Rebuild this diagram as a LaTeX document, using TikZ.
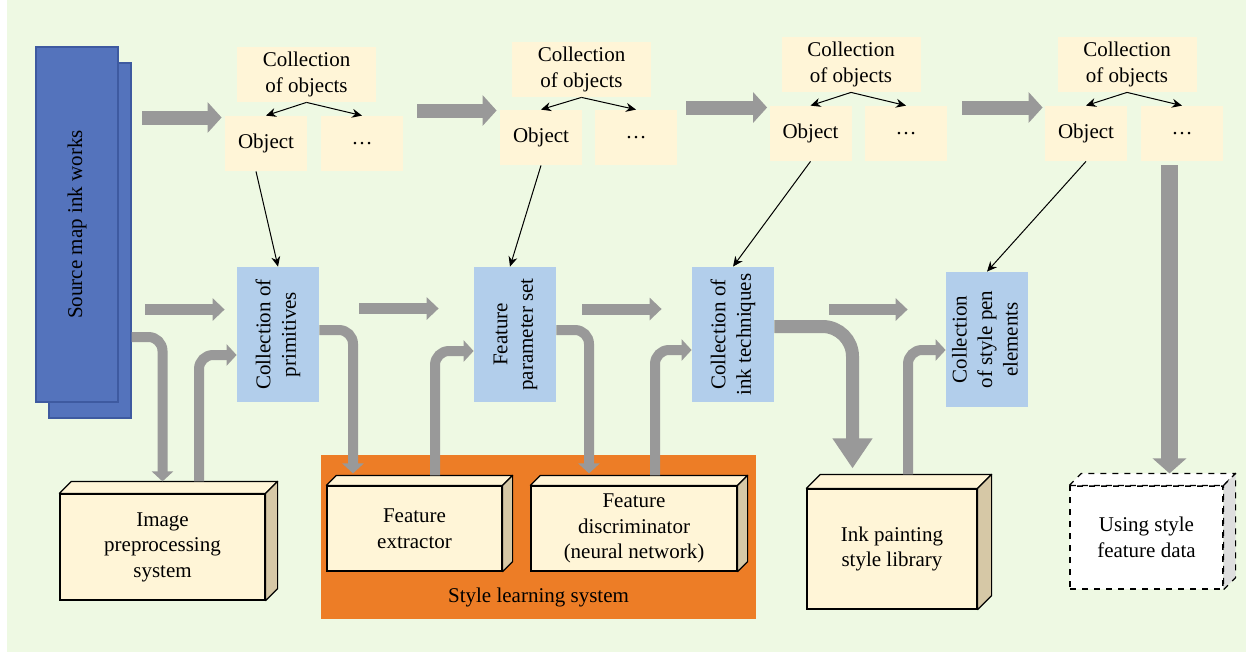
\documentclass[tikz,border=0pt]{standalone}
\usepackage{fontspec}
\setmainfont{Liberation Serif}
\usepackage{graphicx}
\usetikzlibrary{positioning,calc,arrows.meta}
\definecolor{PaleGreen}{RGB}{238,249,227}
\definecolor{LightCream}{RGB}{255,245,215}
\definecolor{SkyBlue}{RGB}{178,206,235}
\definecolor{InkBlue}{RGB}{84,115,188}
\definecolor{InkBlueDark}{RGB}{62,90,160}
\definecolor{ArrowGray}{RGB}{153,153,153}
\definecolor{SideTan}{RGB}{214,200,166}
\definecolor{SideGray}{RGB}{222,222,222}
\definecolor{LearnOrange}{RGB}{237,125,38}
\tikzset{%
  srcpage/.style={%
    fill=InkBlue, draw=InkBlueDark, line width=0.6pt,
    minimum width=41pt, minimum height=177.5pt, inner sep=0pt
  },
  collbox/.style={%
    fill=LightCream, minimum width=69.5pt, minimum height=27.5pt,
    inner sep=0pt, align=center
  },
  objbox/.style={%
    fill=LightCream, minimum width=41pt, minimum height=27.5pt, inner sep=0pt
  },
  stagebox/.style={%
    fill=SkyBlue, minimum width=41pt, minimum height=67.5pt, inner sep=0pt
  },
  cube/.style={%
    draw=black, fill=LightCream, line width=0.6pt, inner sep=0pt, align=center
  },
  cubeface/.style={draw=black, fill=LightCream, line width=0.6pt, line join=round},
  sidefill/.style={fill=SideTan},
  toparrow/.style={draw=ArrowGray, line width=7pt, -{Triangle[width=15pt,length=7pt]}},
  midarrow/.style={draw=ArrowGray, line width=5.5pt, -{Triangle[width=11pt,length=6pt]}},
  bentarrow/.style={draw=ArrowGray, line width=5pt, rounded corners=7pt,
    -{Triangle[width=10.5pt,length=5pt]}},
  thinarrow/.style={line width=0.5pt, -{Stealth[length=5pt,width=4.5pt]}},
}
% rotated two line text for the stage boxes
\newcommand{\vtext}[1]{\rotatebox{90}{\begin{tabular}{@{}c@{}}#1\end{tabular}}}
% top and side faces of a box node
\newcommand{\cubeside}[3][]{%
  \draw[cubeface, #1] (#2.north west) -- ++(#3,-#3) -- ($(#2.north east)+(#3,-#3)$)
    -- (#2.north east) -- cycle;
  \draw[cubeface, #1, sidefill] (#2.north east) -- ++(#3,-#3)
    -- ($(#2.south east)+(#3,-#3)$) -- (#2.south east) -- cycle;}

\begin{document}
\begin{tikzpicture}[x=0.5pt, y=-0.5pt, font=\fontsize{10.5}{12.75}\selectfont]
        \useasboundingbox (0,0) rectangle (1251,654);
        \fill[PaleGreen] (7,0) rectangle (1246,652);

        % source works
        \node (SRCb)[srcpage] at (90,240.5) {};
        \node (SRC)[srcpage] at (77,224.5) {\rotatebox{90}{Source map ink works}};

        % object collections
        \node (C1)[collbox] at (306.5,74.5) {Collection\\of objects};
        \node (O1)[objbox] at (266,143.5) {Object};
        \node (D1)[objbox] at (362,143.5) {\dots};
        \node (C2)[collbox] at (581.5,69.5) {Collection\\of objects};
        \node (O2)[objbox] at (541,137.5) {Object};
        \node (D2)[objbox] at (636,137.5) {\dots};
        \node (C3)[collbox] at (851,64.5) {Collection\\of objects};
        \node (O3)[objbox] at (810.5,133.5) {Object};
        \node (D3)[objbox] at (906,133.5) {\dots};
        \node (C4)[collbox] at (1127,64.5) {Collection\\of objects};
        \node (O4)[objbox] at (1086,133.5) {Object};
        \node (D4)[objbox] at (1182,133.5) {\dots};

        % stages
        \node (PA)[stagebox] at (278,334.5) {\vtext{Collection of\\primitives}};
        \node (PB)[stagebox] at (515,334.5) {\vtext{Feature\\parameter set}};
        \node (PC)[stagebox] at (733,334.5) {\vtext{Collection of\\ink techniques}};
        \node (PD)[stagebox] at (987,339.5) {\vtext{Collection\\of style pen\\elements}};

        % systems
        \node (SLS)[fill=LearnOrange, minimum width=217.5pt, minimum height=82pt] at (538.5,537) {};
        \node (SLSlabel) at ($(SLS.south)+(0,-22)$) {Style learning system};
        \node (IMG)[cube, minimum width=102.5pt, minimum height=53pt] at (162.5,547)
            {Image\\preprocessing\\system};
        \cubeside{IMG}{12}
        \node (FEX)[cube, minimum width=87.5pt, minimum height=42.5pt] at (414.5,528.5)
            {Feature\\extractor};
        \cubeside{FEX}{10}
        \node (FDS)[cube, minimum width=103pt, minimum height=42.5pt] at (634,528.5)
            {Feature\\discriminator\\(neural network)};
        \cubeside{FDS}{10}
        \node (INK)[cube, minimum width=85pt, minimum height=60pt] at (892,549)
            {Ink painting\\style library};
        \cubeside{INK}{14}
        \node (USE)[cube, dashed, fill=white, minimum width=76.5pt, minimum height=51.5pt]
            at (1146.5,537.5) {Using style\\feature data};
        \cubeside[dashed, fill=white, sidefill/.style={fill=SideGray}]{USE}{12}

        % free arrow ends
        \coordinate (t1) at (142,117.5);
        \coordinate (t2) at (417,110.5);
        \coordinate (t3) at (686,107.5);
        \coordinate (t4) at (962,107.5);
        \coordinate (m1) at (145,309.5);
        \coordinate (m2) at (359,308.5);
        \coordinate (m3) at (582,309);
        \coordinate (m4) at (829,309.5);

        \draw[toparrow, shorten >=1.5pt] (t1) -- (t1 -| O1.west);
        \draw[toparrow, shorten >=1.5pt] (t2) -- (t2 -| O2.west);
        \draw[toparrow, shorten >=1pt] (t3) -- (t3 -| O3.west);
        \draw[toparrow, shorten >=1pt] (t4) -- (t4 -| O4.west);
        \draw[midarrow, shorten >=6pt] (m1) -- (m1 -| PA.west);
        \draw[midarrow, shorten >=17.5pt] (m2) -- (m2 -| PB.west);
        \draw[midarrow, shorten >=15pt] (m3) -- (m3 -| PC.west);
        \draw[midarrow, shorten >=19pt] (m4) -- (m4 -| PD.west);

        \draw[bentarrow] ($(SRCb.east)+(0,96.5)$) -| ($(IMG.north)+(0,-12)$);
        \draw[bentarrow] ($(IMG.north)+(36.5,-12)$) |- ($(PA.west)+(0,20.5)$);
        \draw[bentarrow] ($(PA.east)+(0,-4.5)$) -| ($(FEX.north)+(-61.5,-12)$);
        \draw[bentarrow] ($(FEX.north)+(20.5,-10)$) |- ($(PB.west)+(0,16.5)$);
        \draw[bentarrow] ($(PB.east)+(0,-4.5)$) -| ($(FDS.north)+(-45,-12)$);
        \draw[bentarrow] ($(FDS.north)+(21,-10)$) |- ($(PC.west)+(0,15.5)$);
        \draw[bentarrow, line width=6.5pt, rounded corners=15pt,
            -{Triangle[width=19pt,length=15pt]}]
            ($(PC.east)+(0,-8)$) -| ($(INK.north)+(-39.5,-20)$);
        \draw[bentarrow] ($(INK.north)+(16,-14)$) |- ($(PD.west)+(0,10.5)$);
        \draw[draw=ArrowGray, line width=8.5pt, -{Triangle[width=16.5pt,length=7.5pt]}]
            ($(D4.south)+(-12.5,4)$) -- ($(USE.north)+(23,-12)$);

        \path[thinarrow]
            (C1.south) edge (O1.north)
            (C1.south) edge (D1.north)
            (C2.south) edge (O2.north)
            (C2.south) edge (D2.north)
            (C3.south) edge (O3.north)
            (C3.south) edge (D3.north)
            (C4.south) edge (O4.north)
            (C4.south) edge (D4.north)
            ($(O1.south)+(-10,0)$) edge (PA.north)
            (O2.south) edge ($(PB.north)+(-5,0)$)
            (O3.south) edge (PC.north)
            (O4.south) edge (PD.north)
        ;
    \end{tikzpicture}
\end{document}
